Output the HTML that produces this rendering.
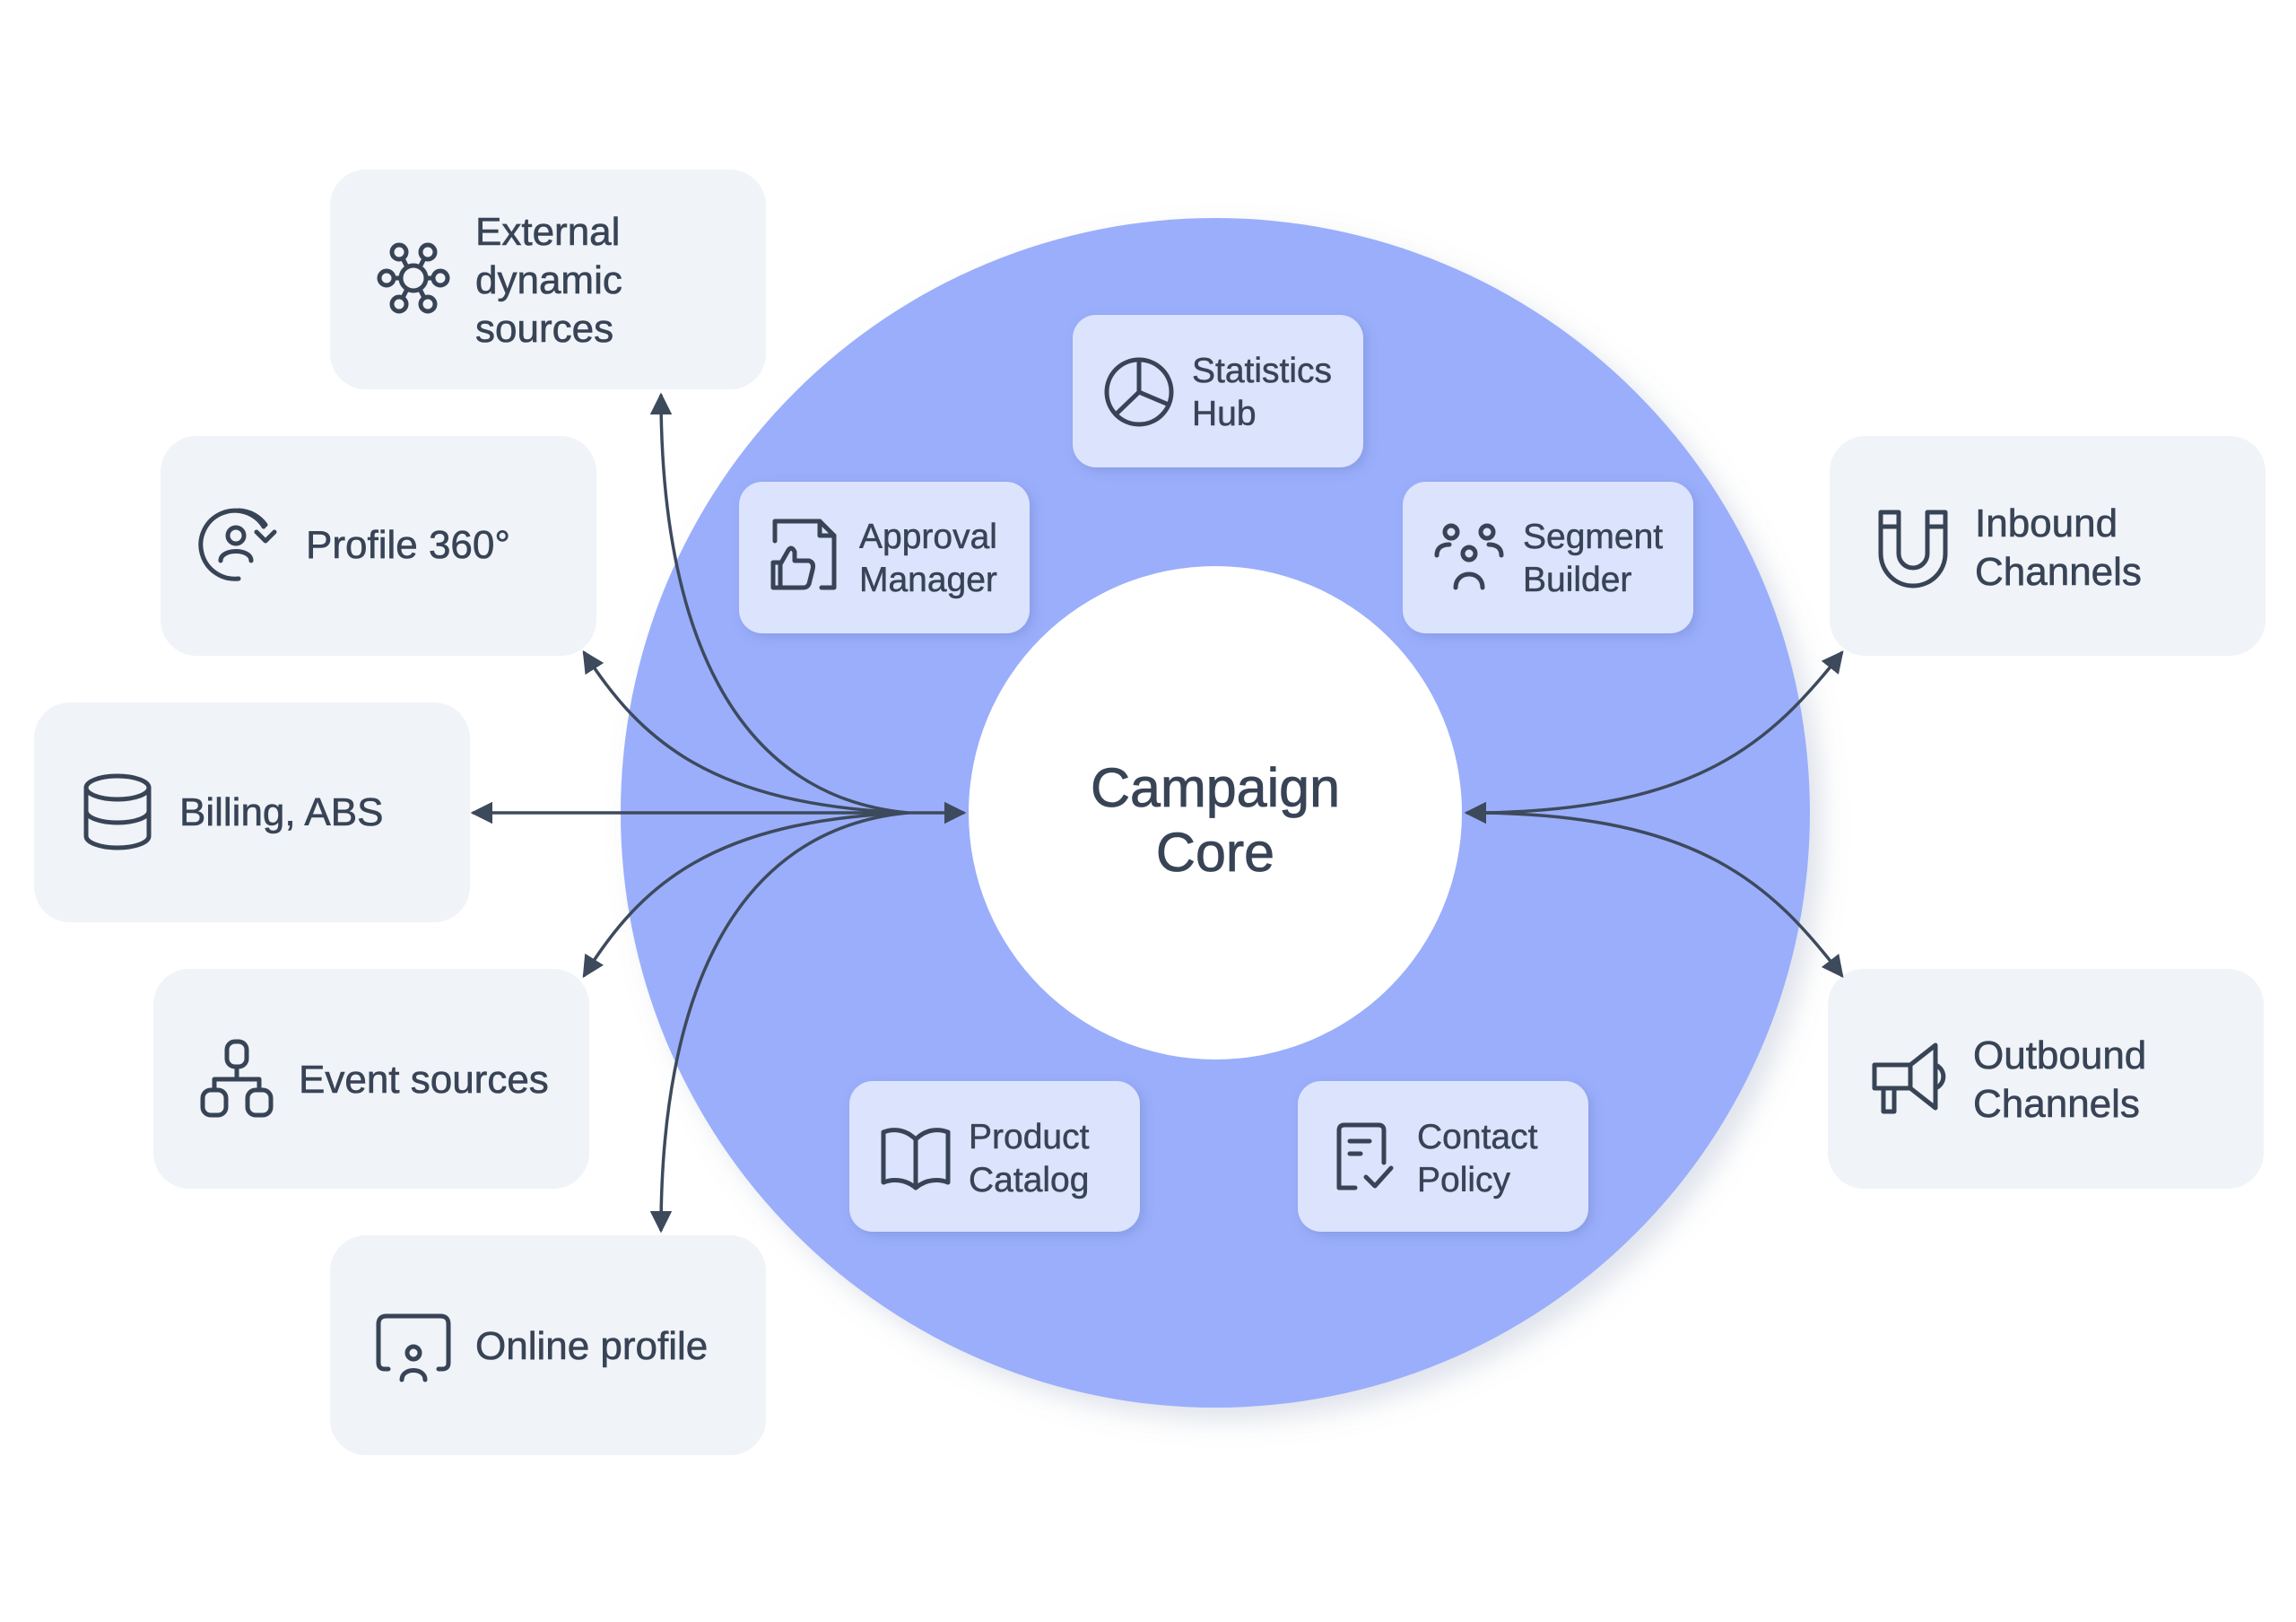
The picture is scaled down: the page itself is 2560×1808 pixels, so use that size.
<!DOCTYPE html>
<html><head><meta charset="utf-8"><style>
html,body{margin:0;padding:0;background:#fff;}
svg{display:block;}
text{font-family:"Liberation Sans",sans-serif;fill:#384456;}
</style></head><body>
<svg width="2560" height="1808" viewBox="0 0 2560 1808" xmlns="http://www.w3.org/2000/svg">
<defs>
<filter id="sh" x="-10%" y="-10%" width="120%" height="120%"><feDropShadow dx="14" dy="14" stdDeviation="14" flood-color="#8090b0" flood-opacity="0.25"/></filter>
<filter id="sh2" x="-10%" y="-10%" width="130%" height="130%"><feDropShadow dx="4" dy="4" stdDeviation="6" flood-color="#5060a0" flood-opacity="0.25"/></filter>
<marker id="ar" viewBox="0 0 10 10" refX="9" refY="5" markerWidth="7" markerHeight="7" orient="auto-start-reverse"><path d="M0,0 L10,5 L0,10 z" fill="#3d4a5c"/></marker>
</defs>
<rect width="2560" height="1808" fill="#fff"/>
<g transform="translate(-5,-3)">
<circle cx="1360" cy="909" r="663" fill="#9aaefb" filter="url(#sh)"/>
<circle cx="1360" cy="909" r="275" fill="#fff"/>
<text x="1360" y="902" font-size="61" text-anchor="middle" stroke="#384456" stroke-width="0.8">Campaign</text>
<text x="1360" y="974" font-size="61" text-anchor="middle" stroke="#384456" stroke-width="0.8">Core</text>

<g fill="#f0f3f8">
<rect x="373" y="192" width="486" height="245" rx="40"/>
<rect x="184" y="489" width="486" height="245" rx="40"/>
<rect x="43" y="786" width="486" height="245" rx="40"/>
<rect x="176" y="1083" width="486" height="245" rx="40"/>
<rect x="373" y="1380" width="486" height="245" rx="40"/>
<rect x="2045" y="489" width="486" height="245" rx="40"/>
<rect x="2043" y="1083" width="486" height="245" rx="40"/>
</g>
<g fill="#dbe3fd" filter="url(#sh2)">
<rect x="1201" y="354" width="324" height="170" rx="26"/>
<rect x="829" y="540" width="324" height="169" rx="26"/>
<rect x="1569" y="540" width="324" height="169" rx="26"/>
<rect x="952" y="1208" width="324" height="168" rx="26"/>
<rect x="1452" y="1208" width="324" height="168" rx="26"/>
</g>

<g fill="none" stroke="#3d4a5c" stroke-width="3.5">
<path d="M1017,909 C820,890 742,700 742,443" marker-end="url(#ar)"/>
<path d="M1017,909 C800,900 720,830 656,730" marker-end="url(#ar)"/>
<path d="M1080,909 L532,909" marker-start="url(#ar)" marker-end="url(#ar)"/>
<path d="M1017,909 C800,918 720,988 656,1091" marker-end="url(#ar)"/>
<path d="M1017,909 C820,928 742,1118 742,1375" marker-end="url(#ar)"/>
<path d="M1660,909 C1900,905 1980,830 2059,730" marker-end="url(#ar)"/>
<path d="M1660,909 C1900,913 1980,988 2059,1091" marker-end="url(#ar)"/>
<path d="M1700,909 L1640,909" marker-end="url(#ar)"/>
</g>

<g font-size="44" stroke="#384456" stroke-width="0.6">
<text x="535" y="276">External</text>
<text x="535" y="330">dynamic</text>
<text x="535" y="384">sources</text>
<text x="346" y="625">Profile 360°</text>
<text x="205" y="923">Billing, ABS</text>
<text x="338" y="1221">Event sources</text>
<text x="535" y="1518">Online profile</text>
<text x="2207" y="601">Inbound</text>
<text x="2207" y="655">Channels</text>
<text x="2205" y="1194">Outbound</text>
<text x="2205" y="1248">Channels</text>
</g>
<g font-size="39" stroke="#384456" stroke-width="0.5">
<text x="1334" y="429">Statistics</text>
<text x="1334" y="477">Hub</text>
<text x="963" y="614">Approval</text>
<text x="963" y="662">Manager</text>
<text x="1703" y="614">Segment</text>
<text x="1703" y="662">Builder</text>
<text x="1085" y="1283">Product</text>
<text x="1085" y="1331">Catalog</text>
<text x="1585" y="1283">Contact</text>
<text x="1585" y="1331">Policy</text>
</g>

<g fill="none" stroke="#384456" stroke-width="5" stroke-linecap="round" stroke-linejoin="round">
<g transform="translate(466,313)">
<circle r="14"/>
<circle cx="-30" cy="0" r="8"/><circle cx="30" cy="0" r="8"/>
<circle cx="-16" cy="-29" r="8"/><circle cx="16" cy="-29" r="8"/>
<circle cx="-16" cy="29" r="8"/><circle cx="16" cy="29" r="8"/>
<path d="M-14,0 L-22,0 M14,0 L22,0 M-7,-12 L-12,-22 M7,-12 L12,-22 M-7,12 L-12,22 M7,12 L12,22"/>
</g>
<g transform="translate(271,610)">
<path d="M28,-20 A38,38 0 1 0 0,38"/>
<path d="M0,-38 A38,38 0 0 1 30,-22"/>
<path d="M20,-14 L30,-4 L40,-14"/>
<circle cx="-3" cy="-10" r="9"/>
<path d="M-20,18 C-20,4 14,4 14,18"/>
</g>
<g transform="translate(136,907)">
<ellipse cx="0" cy="-26" rx="35" ry="13"/>
<path d="M-35,-26 L-35,28 A35,13 0 0 0 35,28 L35,-26"/>
<path d="M-35,0 A35,13 0 0 0 35,0"/>
</g>
<g transform="translate(269,1206)">
<rect x="-11" y="-42" width="22" height="28" rx="9"/>
<path d="M0,-14 L0,-3 M-25,12 L-25,0 L25,0 L25,12"/>
<rect x="-38" y="12" width="26" height="28" rx="9"/>
<rect x="12" y="12" width="26" height="28" rx="9"/>
</g>
<g transform="translate(466,1503)">
<path d="M-28,26 L-32,26 Q-39,26 -39,19 L-39,-24 Q-39,-33 -30,-33 L30,-33 Q39,-33 39,-24 L39,19 Q39,26 32,26 L28,26"/>
<circle cx="0" cy="8" r="7"/>
<path d="M-13,38 C-13,24 13,24 13,38"/>
</g>
<g transform="translate(2138,612)">
<path d="M-36,-38 L-36,8 A36,36 0 0 0 36,8 L36,-38 L16,-38 L16,8 A16,16 0 0 1 -16,8 L-16,-38 Z"/>
<path d="M-36,-22 L-16,-22 M16,-22 L36,-22"/>
</g>
<g transform="translate(2135,1206)">
<path d="M-40,-16 L0,-16 L28,-38 L28,32 L0,10 L-40,10 Z"/>
<path d="M0,-16 L0,10 M28,-16 A14,14 0 0 1 28,10"/>
<path d="M-30,10 L-30,36 L-18,36 L-18,10"/>
</g>
<g transform="translate(1275,440)">
<circle r="36"/>
<path d="M0,-36 L0,0 L33,14 M0,0 L-26,25"/>
</g>
<g transform="translate(901,624)">
<path d="M-20,-40 L18,-40 L34,-24 L34,34 L20,34"/>
<path d="M18,-40 L18,-24 L34,-24"/>
<path d="M-32,-18 L-32,-40 L-20,-40"/>
<path d="M-34,6 L-26,6 L-26,34 L-34,34 Z"/>
<path d="M-26,8 L-18,-6 Q-14,-14 -10,-6 L-10,4 L6,4 Q12,6 10,14 L6,30 Q4,34 0,34 L-26,34"/>
</g>
<g transform="translate(1643,624)">
<circle cx="-20" cy="-28" r="7"/><circle cx="20" cy="-28" r="7"/><circle cx="0" cy="-4" r="7"/>
<path d="M-36,-2 C-36,-12 -28,-14 -22,-14 M36,-2 C36,-12 28,-14 22,-14"/>
<path d="M-15,34 C-15,14 15,14 15,34"/>
</g>
<g transform="translate(1026,1293)">
<path d="M0,-20 C-12,-32 -26,-32 -36,-28 L-36,28 C-26,24 -12,24 0,34 C12,24 26,24 36,28 L36,-28 C26,-32 12,-32 0,-20 Z"/>
<path d="M0,-20 L0,34"/>
</g>
<g transform="translate(1526,1293)">
<path d="M-10,34 L-28,34 L-28,-30 Q-28,-36 -22,-36 L16,-36 Q22,-36 22,-30 L22,6"/>
<path d="M-16,-18 L6,-18 M-16,-4 L-4,-4"/>
<path d="M2,22 L12,32 L30,12"/>
</g>
</g>
</g>
</svg>
</body></html>
